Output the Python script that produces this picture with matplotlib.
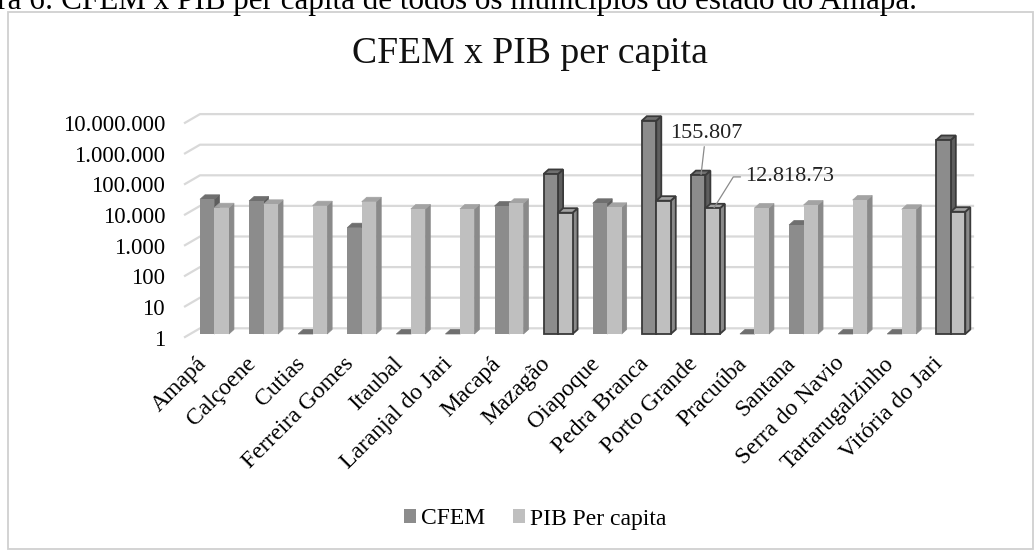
import matplotlib
matplotlib.use("Agg")
import matplotlib.pyplot as plt
from matplotlib.patches import Polygon, Rectangle, Patch
from matplotlib.transforms import ScaledTranslation, IdentityTransform
from matplotlib.ticker import NullLocator
import numpy as np

# ---------------- data ----------------
categories = ["Amapá", "Calçoene", "Cutias", "Ferreira Gomes", "Itaubal",
              "Laranjal do Jari", "Macapá", "Mazagão", "Oiapoque", "Pedra Branca",
              "Porto Grande", "Pracuúba", "Santana", "Serra do Navio",
              "Tartarugalzinho", "Vitória do Jari"]
cfem = [25200, 22200, 1, 2980, 1, 1, 15200, 170000, 18700, 9330000,
        155807, 1, 3650, 1, 1, 2190000]
pib = [13400, 17300, 15600, 21000, 12200, 12200, 18700, 9200, 13800, 22700,
       12818.73, 13100, 16400, 23900, 11900, 9900]
highlighted = ["Mazagão", "Pedra Branca", "Porto Grande", "Vitória do Jari"]
ytick_values = [1, 10, 100, 1000, 10000, 100000, 1000000, 10000000]
ytick_labels = ["1", "10", "100", "1.000", "10.000", "100.000", "1.000.000", "10.000.000"]
series_names = ["CFEM", "PIB Per capita"]
title = "CFEM x PIB per capita"
caption = "Figura 6: CFEM x PIB per capita de todos os municípios do estado do Amapá."
caption_visible = "6: CFEM x PIB per capita de todos os municípios do estado do Amapá."
annot_cfem = "155.807"
annot_pib = "12.818.73"

# ---------------- figure ----------------
W, H, DPI = 1035, 551, 100
plt.rcParams['font.family'] = ['Liberation Serif', 'DejaVu Serif']
fig = plt.figure(figsize=(W / DPI, H / DPI), dpi=DPI)
fig.patch.set_facecolor('white')
renderer = fig.canvas.get_renderer()


def fx(px):
    return px / W


def fy(py):
    return 1 - py / H


# chart border
fig.patches.append(Rectangle((fx(8), fy(549)), fx(1033) - fx(8), fy(12) - fy(549),
                             transform=fig.transFigure, fill=False,
                             edgecolor='#d0d0d0', lw=1.3))

# caption (partly cut off at the top, as in the source page)
cap = fig.text(fx(917), fy(8.5), caption, ha='right', va='baseline', fontsize=20, color='black')
tmp = fig.text(0, 0, caption_visible, fontsize=20)
wv = tmp.get_window_extent(renderer).width
tmp.remove()
cap.set_fontsize(20 * 890 / wv)

# title
tt = fig.text(fx(529.5), fy(63), title, ha='center', va='baseline', fontsize=26, color='#111111')
wt = tt.get_window_extent(renderer).width
tt.set_fontsize(26 * 355 / wt)

# ---------------- axes ----------------
ax_l, ax_r, ax_t, ax_b = 186, 968, 119.8, 334
ax = fig.add_axes([fx(ax_l), fy(ax_b), fx(ax_r) - fx(ax_l), fy(ax_t) - fy(ax_b)])
ax.set_facecolor('none')
ax.set_yscale('log')
ax.set_ylim(1, 1e7)
n = len(categories)
xpos = np.arange(n)
ax.set_xlim(-0.58, 15.35)
for s in ax.spines.values():
    s.set_visible(False)
ax.yaxis.set_minor_locator(NullLocator())
ax.set_yticks(ytick_values)
ax.set_yticklabels(ytick_labels, fontsize=16.5)
ax.tick_params(axis='y', length=0, pad=15)
for lab in ax.get_yticklabels():
    lab.set_transform(lab.get_transform() + ScaledTranslation(0, -0.035, fig.dpi_scale_trans))
ax.set_xticks(xpos)
ax.set_xticklabels(categories, rotation=45, ha='right', va='center',
                   rotation_mode='anchor', fontsize=17)
ax.tick_params(axis='x', length=0, pad=19)
for lab in ax.get_xticklabels():
    lab.set_transform(lab.get_transform() + ScaledTranslation(-0.11, 0, fig.dpi_scale_trans))

ident = IdentityTransform()

# gridlines (3D back wall + left diagonal)
x_left_disp = ax.transData.transform((ax.get_xlim()[0], 1))[0]
x_right_back = fx(973) * W
for v in ytick_values:
    yd = ax.transData.transform((ax.get_xlim()[0], v))[1]
    ax.plot([x_left_disp - 1, x_left_disp + 14, x_right_back],
            [yd - 3, yd + 5.7, yd + 5.7], transform=ident, color='#d9d9d9',
            lw=1.6, zorder=0, clip_on=False)

# ---------------- bars (pseudo 3D) ----------------
w = 0.295
ddx, ddy = 5, 4.5
colors = {
    'CFEM': dict(front='#8c8c8c', top='#6f6f6f', side='#5e5e5e'),
    'PIB': dict(front='#bfbfbf', top='#a3a3a3', side='#8a8a8a'),
}


def draw_bar(xc, val, col, outlined):
    edge = '#3a3a3a' if outlined else 'none'
    lw = 1.3 if outlined else 0
    x0, x1 = xc - w / 2, xc + w / 2
    (px0, pyb), (px1, pyt) = ax.transData.transform([(x0, 1), (x1, val)])
    side = [(px1, pyb), (px1, pyt), (px1 + ddx, pyt + ddy), (px1 + ddx, pyb + ddy)]
    top = [(px0, pyt), (px1, pyt), (px1 + ddx, pyt + ddy), (px0 + ddx, pyt + ddy)]
    ax.add_patch(Polygon(side, closed=True, transform=ident, facecolor=col['side'],
                         edgecolor=edge if outlined else col['side'], lw=lw if outlined else 0.5,
                         clip_on=False, zorder=2))
    ax.add_patch(Polygon(top, closed=True, transform=ident, facecolor=col['top'],
                         edgecolor=edge if outlined else col['top'], lw=lw if outlined else 0.5,
                         clip_on=False, zorder=2))
    ax.bar(xc, val - 1, width=w, bottom=1, color=col['front'], edgecolor=edge,
           linewidth=lw, zorder=2, clip_on=False)


for i, cat in enumerate(categories):
    hl = cat in highlighted
    draw_bar(xpos[i] - w / 2, cfem[i], colors['CFEM'], hl)
    draw_bar(xpos[i] + w / 2, pib[i], colors['PIB'], hl)

# ---------------- annotations ----------------
pg = categories.index("Porto Grande")
ax.annotate(annot_cfem, xy=(xpos[pg] - w / 2 + 0.06, cfem[pg] * 1.05),
            xytext=(xpos[pg] + 0.01, 3.7e6), textcoords='data',
            ha='center', va='center', fontsize=16, color='#222222', zorder=5,
            arrowprops=dict(arrowstyle='-', color='#8a8a8a', lw=0.9,
                            shrinkA=1, shrinkB=0))
ax.annotate(annot_pib, xy=(xpos[pg] + w / 2 + 0.03, pib[pg] * 1.05),
            xytext=(xpos[pg] + 0.80, 1.36e5), textcoords='data',
            ha='left', va='center', fontsize=16, color='#222222', zorder=5,
            arrowprops=dict(arrowstyle='-', color='#8a8a8a', lw=0.9,
                            shrinkA=1, shrinkB=0,
                            connectionstyle='angle,angleA=0,angleB=58,rad=0'))

# ---------------- legend ----------------
handles = [Patch(facecolor=colors['CFEM']['front'], label=series_names[0]),
           Patch(facecolor=colors['PIB']['front'], label=series_names[1])]
fig.legend(handles=handles, loc='center', bbox_to_anchor=(fx(535), fy(519)), ncol=2,
           frameon=False, fontsize=17, handlelength=0.5, handleheight=0.5,
           handletextpad=0.2, columnspacing=1.2)

fig.savefig('out.png', dpi=DPI)
